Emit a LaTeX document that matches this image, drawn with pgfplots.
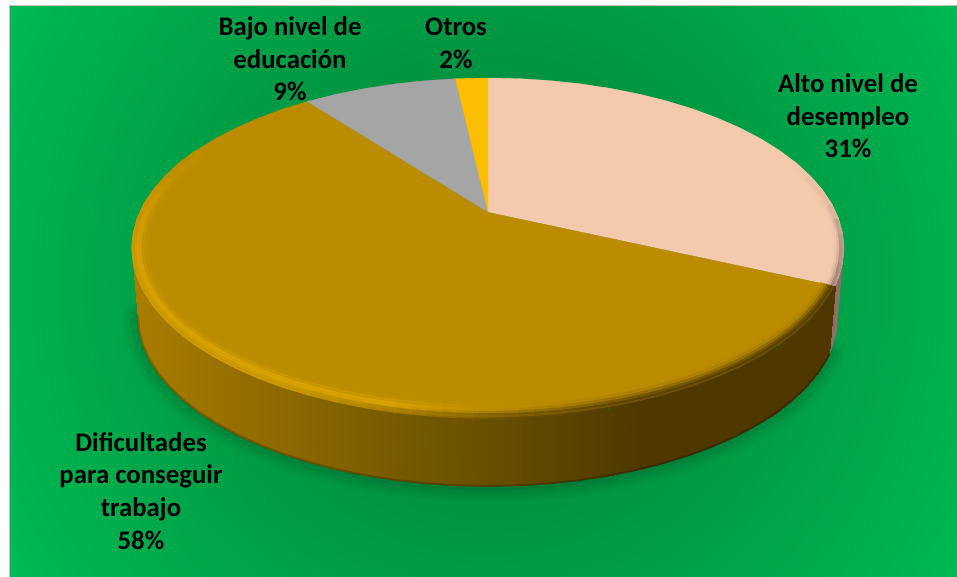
\documentclass[border=0pt]{standalone}
\usepackage{fontspec}
\setmainfont{Carlito}
\usepackage{pgfplots}
\usepackage{pgfplotstable}
\pgfplotsset{compat=1.18}
\definecolor{cpink}{RGB}{244,201,173}
\definecolor{cgold}{RGB}{188,140,0}
\definecolor{cgray}{RGB}{165,165,165}
\definecolor{cyellow}{RGB}{252,190,0}
\definecolor{cpinkside}{RGB}{142,112,102}
\definecolor{bgA}{RGB}{0,128,54}
\definecolor{bgB}{RGB}{0,155,68}
\definecolor{bgC}{RGB}{0,176,78}
\definecolor{bgD}{RGB}{0,186,85}
\pgfdeclareradialshading{chartbg}{\pgfpoint{0bp}{0bp}}{
	color(0bp)=(bgA); color(12.75bp)=(bgB); color(21bp)=(bgC); color(25bp)=(bgD); color(50bp)=(bgD)}

\pgfplotsset{
	colormap={sidegold}{rgb255(0pt)=(170,125,0); rgb255(132pt)=(170,125,0); rgb255(280pt)=(142,105,0);
		rgb255(400pt)=(118,90,0); rgb255(500pt)=(103,77,0); rgb255(640pt)=(78,56,0); rgb255(844pt)=(78,56,0)},
	colormap={rimA}{rgb255(0pt)=(78,56,0); rgb255(65pt)=(78,56,0); rgb255(85pt)=(105,78,0); rgb255(106pt)=(170,126,0);
		rgb255(125pt)=(205,155,0); rgb255(180pt)=(205,155,0); rgb255(200pt)=(198,148,0); rgb255(215pt)=(188,140,0); rgb255(844pt)=(188,140,0)},
	colormap={rimB}{rgb255(0pt)=(95,70,0); rgb255(65pt)=(100,74,0); rgb255(85pt)=(145,108,0); rgb255(106pt)=(212,160,0);
		rgb255(125pt)=(220,166,0); rgb255(180pt)=(218,165,0); rgb255(200pt)=(205,153,0); rgb255(215pt)=(188,140,0); rgb255(844pt)=(188,140,0)},
	colormap={rimC}{rgb255(0pt)=(130,96,0); rgb255(65pt)=(135,100,0); rgb255(85pt)=(178,133,0); rgb255(106pt)=(224,169,0);
		rgb255(125pt)=(224,169,0); rgb255(180pt)=(218,165,0); rgb255(200pt)=(205,153,0); rgb255(215pt)=(188,140,0); rgb255(844pt)=(188,140,0)},
	colormap={rimD}{rgb255(0pt)=(165,123,0); rgb255(65pt)=(170,127,0); rgb255(85pt)=(188,140,0); rgb255(106pt)=(206,155,0);
		rgb255(125pt)=(206,155,0); rgb255(180pt)=(202,152,0); rgb255(200pt)=(195,146,0); rgb255(215pt)=(188,140,0); rgb255(844pt)=(188,140,0)},
	colormap={rimE}{rgb255(0pt)=(182,136,0); rgb255(85pt)=(188,140,0); rgb255(106pt)=(192,144,0);
		rgb255(180pt)=(192,144,0); rgb255(215pt)=(188,140,0); rgb255(844pt)=(188,140,0)},
	colormap={pinkA}{rgb255(0pt)=(244,201,173); rgb255(15pt)=(225,185,160); rgb255(25pt)=(170,140,128); rgb255(43pt)=(150,120,110); rgb255(844pt)=(150,120,110)},
	colormap={pinkB}{rgb255(0pt)=(244,201,173); rgb255(20pt)=(225,185,160); rgb255(43pt)=(195,160,140); rgb255(844pt)=(195,160,140)},
	colormap={pinkC}{rgb255(0pt)=(244,201,173); rgb255(25pt)=(240,198,170); rgb255(43pt)=(225,185,160); rgb255(844pt)=(225,185,160)},
}

% rim of the gold slice, t = angle round the top ellipse
\pgfplotstableread{
t x y
13 835.1 286
15 831.9 292
20 822.5 306.1
25 810.6 319.8
30 796.3 333
35 779.6 345.5
40 760.7 357.3
45 739.7 368.2
50 716.8 378.2
55 692.2 387.3
60 666 395.2
62.5 652.4 398.8
65 638.4 402.1
67.5 624.2 405.1
70 609.8 407.7
72.5 595.1 410.1
75 580.1 412.2
77.5 565 414
80 549.8 415.4
82.5 534.5 416.5
85 519 417.4
87.5 503.5 417.8
90 488 418
92.5 472.5 417.8
95 457 417.4
97.5 441.5 416.5
100 426.2 415.4
102.5 411 414
105 395.9 412.2
107.5 380.9 410.1
110 366.2 407.7
115 337.6 402.1
120 310 395.2
125 283.8 387.3
130 259.2 378.2
135 236.3 368.2
140 215.3 357.3
145 196.4 345.5
150 179.7 333
155 165.4 319.8
160 153.5 306.1
165 144.1 292
170 137.4 277.5
175 133.4 262.8
180 132 248
185 133.4 233.2
190 137.4 218.5
195 144.1 204
200 153.5 189.9
205 165.4 176.2
210 179.7 163
215 196.4 150.5
}\rimgold

% rim of the pink slice
\pgfplotstableread{
t x y
0 796.3 163
5 810.6 176.2
10 822.5 189.9
15 831.9 204
20 838.6 218.5
25 842.6 233.2
30 844 248
35 842.6 262.8
40 838.6 277.5
43 835.1 286
}\rimpink

% side wall of the gold slice, top row then bottom row
\pgfplotstableread{
x y
835.1 286
831.9 292
822.5 306.1
810.6 319.8
796.3 333
779.6 345.5
760.7 357.3
739.7 368.2
716.8 378.2
692.2 387.3
666 395.2
638.4 402.1
609.8 407.7
580.1 412.2
549.8 415.4
519 417.4
488 418
457 417.4
426.2 415.4
395.9 412.2
366.2 407.7
337.6 402.1
310 395.2
283.8 387.3
259.2 378.2
236.3 368.2
215.3 357.3
196.4 345.5
179.7 333
165.4 319.8
153.5 306.1
144.1 292
137.4 277.5
133.4 262.8
132 248
829.2 354
826.1 360
816.9 374.1
805.2 387.8
791.1 401
774.7 413.5
756.1 425.3
735.5 436.2
713 446.2
688.8 455.3
663 463.2
635.9 470.1
607.7 475.7
578.6 480.2
548.8 483.4
518.5 485.4
488 486
457.5 485.4
427.2 483.4
397.4 480.2
368.3 475.7
340.1 470.1
313 463.2
287.2 455.3
263 446.2
240.5 436.2
219.9 425.3
201.3 413.5
184.9 401
170.8 387.8
159.1 374.1
149.9 360
143.3 345.5
139.3 330.8
138 316
}\sidegold

\newcommand{\rimline}[3]{%
	\addplot[mesh, colormap name=#2, line width=4.5pt, opacity=0.7, point meta=\thisrow{t}]
		table[x expr={488+(\thisrow{x}-488)*(1-#3/356)}, y expr={248+(\thisrow{y}-248)*(1-1.1*#3/170)}] {#1};
}
\newcommand{\shadowline}[2]{%
	\addplot[draw=black, opacity=#2, line width=#1, line cap=round, skip coords between index={0}{35}] table {\sidegold};
}

\begin{document}
\begin{tikzpicture}
	\begin{axis}[
		width=957pt, height=577pt, scale only axis,
		xmin=0, xmax=957, ymin=0, ymax=577,
		y dir=reverse, hide axis,
		point meta min=0, point meta max=844,
		no markers]
	\path (axis cs:0,0) rectangle (axis cs:957,577);
	% background
	\begin{scope}
		\clip (axis cs:9,5.5) rectangle (axis cs:957,577);
		\shade[shading=chartbg] (axis cs:488,285) circle[radius=560];
	\end{scope}
	\draw[draw=black!25, line width=1pt] (axis cs:9,577) -- (axis cs:9,5.5) -- (axis cs:957,5.5);
	% soft shadow under the pie
	\shadowline{32pt}{0.025}
	\shadowline{26pt}{0.025}
	\shadowline{20pt}{0.03}
	\shadowline{14pt}{0.03}
	\shadowline{8pt}{0.04}
	% side walls
	\addplot[fill=cpinkside, draw=cpinkside, line width=0.3pt] coordinates {
		(844,248) (842.6,262.8) (838.6,277.5) (835.1,286)
		(829.2,354) (832.7,345.5) (836.7,330.8) (838,316)
	};
	\addplot[surf, shader=interp, colormap name=sidegold, mesh/rows=2, mesh/cols=35, point meta=x] table {\sidegold};
	\addplot[mesh, colormap name=sidegold, line width=1.5pt, point meta=x, skip coords between index={0}{35}] table {\sidegold};
	\addplot[draw=black, opacity=0.2, line width=2pt, skip coords between index={0}{35}] table {\sidegold};
	% top face
	\addplot[fill=cgold, draw=cgold, line width=0.3pt] coordinates {
		(488,212) (835.1,286) (831.9,292) (822.5,306.1) (810.6,319.8) (796.3,333) (779.6,345.5) (760.7,357.3)
		(739.7,368.2) (716.8,378.2) (692.2,387.3) (666,395.2) (638.4,402.1) (609.8,407.7) (580.1,412.2)
		(549.8,415.4) (519,417.4) (488,418) (457,417.4) (426.2,415.4) (395.9,412.2) (366.2,407.7) (337.6,402.1)
		(310,395.2) (283.8,387.3) (259.2,378.2) (236.3,368.2) (215.3,357.3) (196.4,345.5) (179.7,333)
		(165.4,319.8) (153.5,306.1) (144.1,292) (137.4,277.5) (133.4,262.8) (132,248) (133.4,233.2)
		(137.4,218.5) (144.1,204) (153.5,189.9) (165.4,176.2) (179.7,163) (196.4,150.5) (215.3,138.7)
		(236.3,127.8) (259.2,117.8) (283.8,108.7) (307.5,101.5)
	};
	\addplot[fill=cpink, draw=cpink, line width=0.3pt] coordinates {
		(488,212) (488,78) (519,78.6) (549.8,80.6) (580.1,83.8) (609.8,88.3) (638.4,93.9) (666,100.8)
		(692.2,108.7) (716.8,117.8) (739.7,127.8) (760.7,138.7) (779.6,150.5) (796.3,163) (810.6,176.2)
		(822.5,189.9) (831.9,204) (838.6,218.5) (842.6,233.2) (844,248) (842.6,262.8) (838.6,277.5) (835.1,286)
	};
	\addplot[fill=cgray, draw=cgray, line width=0.3pt] coordinates {
		(488,212) (307.5,101.5) (310,100.8) (337.6,93.9) (366.2,88.3) (395.9,83.8) (426.2,80.6) (455.3,78.7)
	};
	\addplot[fill=cyellow, draw=cyellow, line width=0.3pt] coordinates {
		(488,212) (455.3,78.7) (457,78.6) (488,78)
	};
	% bevel, inner rings first
	\rimline{\rimgold}{rimE}{13}
	\rimline{\rimgold}{rimD}{10}
	\rimline{\rimgold}{rimC}{7}
	\rimline{\rimgold}{rimB}{4.5}
	\rimline{\rimgold}{rimA}{2.3}
	\addplot[mesh, colormap name=rimA, line width=1.5pt, point meta=\thisrow{t}] table[x=x, y=y] {\rimgold};
	\rimline{\rimpink}{pinkC}{7}
	\rimline{\rimpink}{pinkB}{4.5}
	\rimline{\rimpink}{pinkA}{2.3}
	% labels
	\node[align=center, font=\fontsize{26.8}{32.7}\selectfont\bfseries] at (axis cs:290,59) {Bajo nivel de\\educación\\9\%};
	\node[align=center, font=\fontsize{26.8}{32.7}\selectfont\bfseries] at (axis cs:456,43) {Otros\\2\%};
	\node[align=center, font=\fontsize{26.8}{32.7}\selectfont\bfseries] at (axis cs:848,116) {Alto nivel de\\desempleo\\31\%};
	\node[align=center, font=\fontsize{26.8}{32.7}\selectfont\bfseries] at (axis cs:141,491) {Dificultades\\para conseguir\\trabajo\\58\%};
	\end{axis}
\end{tikzpicture}
\end{document}
